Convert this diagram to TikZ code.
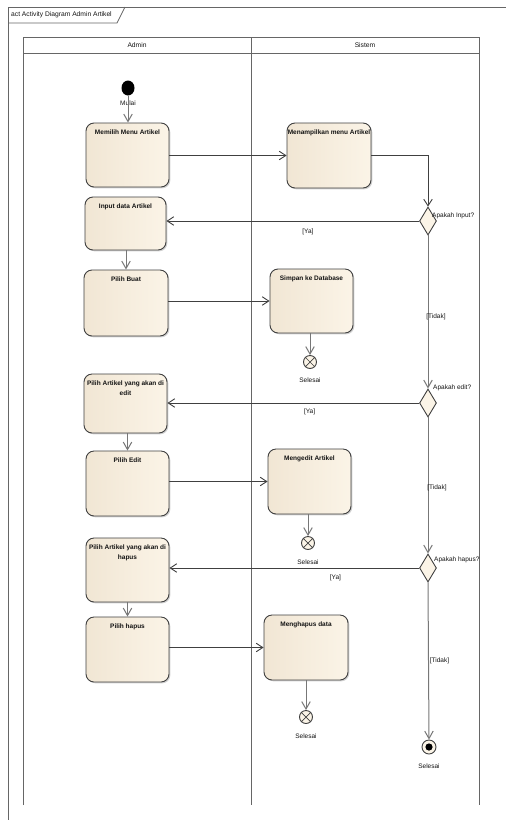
\documentclass[tikz,border=0pt]{standalone}
\usepackage{fontspec}
\setmainfont{Liberation Sans}
\usetikzlibrary{arrows.meta,shapes.geometric,shadows,calc}
\definecolor{fillL}{HTML}{F1E6D4}
\definecolor{fillR}{HTML}{FBF4E7}
\definecolor{nodeline}{HTML}{404040}
\definecolor{laneline}{HTML}{666666}
\definecolor{flowline}{HTML}{404040}
\definecolor{vflow}{HTML}{777777}
\definecolor{txt}{HTML}{141414}
\newcommand\acttxt[3]{\parbox[c][#2pt][t]{#1pt}{\centering\vspace*{6.5pt}#3}}
\begin{document}
\begin{tikzpicture}[x=1pt,y=-1pt,
  actbox/.style={draw=nodeline, line width=0.9pt, rounded corners=8pt,
    left color=fillL, right color=fillR,
    drop shadow={shadow xshift=1.3pt, shadow yshift=-1.3pt, opacity=0.35},
    inner sep=0pt, font=\fontsize{6.5}{10.5}\selectfont\bfseries, text=txt},
  decision/.style={diamond, draw=nodeline, line width=0.9pt, fill=fillR,
    inner sep=0pt, minimum width=17pt, minimum height=28pt},
  flowfinal/.style={circle, draw=nodeline, line width=0.9pt, fill=fillR,
    inner sep=0pt, minimum size=13pt},
  actfinal/.style={circle, draw=nodeline, line width=0.9pt, fill=fillR,
    inner sep=0pt, minimum size=14pt,
    path picture={\fill[black] (path picture bounding box.center) circle (3.6pt);}},
  initnode/.style={ellipse, fill=black, inner sep=0pt, minimum width=13pt, minimum height=15pt},
  lbl/.style={font=\fontsize{6.5}{8}\selectfont, text=txt, inner sep=0pt},
  hdr/.style={font=\fontsize{6.7}{8}\selectfont, text=txt, inner sep=0pt},
  flow/.style={draw=flowline, line width=0.9pt, -{Straight Barb[length=6.5pt,width=8.5pt]}},
  vflowst/.style={draw=vflow, line width=1pt, -{Straight Barb[length=7.5pt,width=8.5pt]}},
  lane/.style={draw=laneline, line width=1pt}
]
\useasboundingbox (0,0) rectangle (506,820);
\fill[white] (0,0) rectangle (506,820);

% frame
\draw[draw=laneline, line width=1pt] (8,820) -- (8,7) -- (506,7);
\draw[draw=laneline, line width=0.8pt] (8,23) -- (117,23) -- (125,7);
\node[hdr, anchor=west] (frametitle) at (11,15) {act Activity Diagram Admin Artikel};

% swimlanes
\draw[lane] (23,805) -- (23,37) -- (479,37) -- (479,805);
\draw[lane] (251,37) -- (251,805);
\draw[lane] (23,53) -- (479,53);
\node[hdr] (hadmin) at (137,45) {Admin};
\node[hdr] (hsistem) at (365,45) {Sistem};

% nodes
\node[initnode] (init) at (128,88) {};
\node[lbl] (mulai) at (128,103) {Mulai};

\node[actbox] (memilih) at (127.5,155) {\acttxt{83}{64}{Memilih Menu Artikel}};
\node[actbox] (menampil) at (329,155.5) {\acttxt{84}{65}{Menampilkan menu Artikel}};
\node[decision] (d1) at (428,221) {};
\node[lbl, anchor=west] (q1) at (432,216) {Apakah Input?};
\node[actbox] (input) at (125.5,223.5) {\acttxt{81}{53}{Input data Artikel}};
\node[actbox] (buat) at (126,303) {\acttxt{84}{66}{Pilih Buat}};
\node[actbox] (simpan) at (311.5,301) {\acttxt{83}{64}{Simpan ke Database}};
\node[flowfinal] (f1) at (310,362) {};
\node[lbl] (s1) at (310,380) {Selesai};

\node[decision] (d2) at (428,403) {};
\node[lbl, anchor=west] (q2) at (433,388) {Apakah edit?};
\node[actbox] (editsel) at (125.5,403.5) {\acttxt{83}{59}{Pilih Artikel yang akan di\\edit}};
\node[actbox] (edit) at (127.5,483.5) {\acttxt{83}{65}{Pilih Edit}};
\node[actbox] (mengedit) at (309.5,481.5) {\acttxt{83}{65}{Mengedit Artikel}};
\node[flowfinal] (f2) at (308,543) {};
\node[lbl] (s2) at (308,562) {Selesai};

\node[decision] (d3) at (428,568) {};
\node[lbl, anchor=west] (q3) at (434,560) {Apakah hapus?};
\node[actbox] (hapussel) at (127.5,570) {\acttxt{83}{64}{Pilih Artikel yang akan di\\hapus}};
\node[actbox] (hapus) at (127.5,649.5) {\acttxt{83}{65}{Pilih hapus}};
\node[actbox] (menghapus) at (306,647.5) {\acttxt{84}{65}{Menghapus data}};
\node[flowfinal] (f3) at (306,717) {};
\node[lbl] (s3) at (306,736) {Selesai};

\node[actfinal] (fin) at (429,747) {};
\node[lbl] (s4) at (429,766) {Selesai};

% cross in flow finals
\foreach \f in {f1,f2,f3}{
  \draw[draw=nodeline, line width=0.7pt] (\f.45) -- (\f.225) (\f.135) -- (\f.315);
}

% connectors
\draw[vflowst] (init.south) -- (init.south |- memilih.north);
\draw[flow] (memilih.east |- menampil.west) -- (menampil.west);
\draw[flow] (menampil.east) -| (d1.north);
\draw[flow] (d1.west) -- (d1.west -| input.east) node[lbl, pos=0.44, below=7pt] (ya1) {[Ya]};
\draw[vflowst] (input.south -| buat.north) -- (buat.north);
\draw[flow] (buat.east |- simpan.west) -- (simpan.west);
\draw[vflowst] (simpan.south -| f1.north) -- (f1.north);
\draw[vflowst] (d1.south) -- (d2.north) node[lbl, pos=0.53, xshift=8pt] (t1) {[Tidak]};

\draw[flow] (d2.west) -- (d2.west -| editsel.east) node[lbl, pos=0.435, below=5pt] (ya2) {[Ya]};
\draw[vflowst] (editsel.south -| edit.north) -- (edit.north);
\draw[flow] (edit.east |- mengedit.west) -- (mengedit.west);
\draw[vflowst] (mengedit.south -| f2.north) -- (f2.north);
\draw[vflowst] (d2.south) -- (d3.north) node[lbl, pos=0.52, xshift=9pt] (t2) {[Tidak]};

\draw[flow] (d3.west) -- (d3.west -| hapussel.east) node[lbl, pos=0.335, below=6pt] (ya3) {[Ya]};
\draw[vflowst] (hapussel.south -| hapus.north) -- (hapus.north);
\draw[flow] (hapus.east |- menghapus.west) -- (menghapus.west);
\draw[vflowst] (menghapus.south -| f3.north) -- (f3.north);
\draw[vflowst] (d3.south) -- (fin.north) node[lbl, pos=0.5, xshift=11pt] (t3) {[Tidak]};
\end{tikzpicture}
\end{document}
